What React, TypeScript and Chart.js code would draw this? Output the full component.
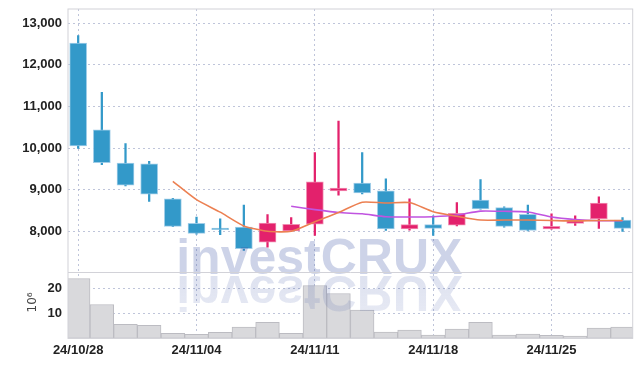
import React, { useEffect, useRef } from 'react';
import { Chart, registerables } from 'chart.js';
Chart.register(...registerables);

const dates = ['24/10/28','24/10/29','24/10/30','24/10/31','24/11/01','24/11/04','24/11/05','24/11/06','24/11/07','24/11/08','24/11/11','24/11/12','24/11/13','24/11/14','24/11/15','24/11/18','24/11/19','24/11/20','24/11/21','24/11/22','24/11/25','24/11/26','24/11/27','24/11/28'];
const opens = [12520,10440,9640,9620,8780,8190,8080,8100,7740,8010,8170,8970,9160,8970,8060,8160,8150,8750,8570,8410,8060,8190,8300,8270];
const closes = [10050,9650,9110,8890,8120,7950,8040,7580,8200,8170,9190,9040,8920,8060,8160,8070,8430,8540,8120,8020,8120,8260,8680,8070];
const highs = [12700,11340,10110,9680,8790,8340,8300,8630,8400,8330,9890,10650,9890,9260,8780,8370,8690,9240,8590,8630,8420,8370,8830,8330];
const lows = [9990,9600,9090,8720,8110,7930,7920,7540,7620,8000,7900,8870,8900,8020,8030,7900,8130,8530,8100,8010,8050,8140,8070,8000];
const ma5 = [null,null,null,null,9200,8760,8460,8130,8000,8000,8230,8450,8700,8680,8690,8470,8360,8270,8270,8270,8260,8250,8260,8260];
const ma10 = [null,null,null,null,null,null,null,null,null,8600,8520,8450,8420,8350,8345,8350,8390,8485,8480,8465,8345,8285,8255,8255];
const volumes = [24.0,13.6,5.6,5.2,2.0,1.6,2.4,4.5,6.4,2.0,21.2,18.0,11.3,2.5,3.3,1.3,3.7,6.4,1.3,1.7,1.2,0.9,4.1,4.5];
const priceTicks = [8000, 9000, 10000, 11000, 12000, 13000];
const volumeTicks = [10, 20];
const dateTickIndexes = [0, 5, 10, 15, 20];

const UP = '#e3216c';
const DOWN = '#3399c9';
const GRID = 'rgba(170,178,205,0.75)';
const FONT = "'Liberation Sans', Arial, sans-serif";

export default function App() {
  const ref = useRef<HTMLCanvasElement>(null);
  useEffect(() => {
    const canvas = ref.current!;
    const isUp = opens.map((o, i) => closes[i] >= o);
    const colors = isUp.map(u => (u ? UP : DOWN));
    const borders = isUp.map(u => (u ? 'rgba(240,130,170,0.9)' : 'rgba(150,200,230,0.9)'));

    const framePlugin = {
      id: 'frame',
      afterDatasetsDraw(chart: any) {
        const { ctx, chartArea } = chart;
        const sepY = chart.scales.y.bottom;
        const cx = chartArea.left + (chartArea.right - chartArea.left) * 0.445;
        ctx.save();
        ctx.font = "bold 50px 'Liberation Sans', Arial, sans-serif";
        ctx.textAlign = 'center';
        ctx.textBaseline = 'alphabetic';
        ctx.fillStyle = 'rgba(55,79,163,0.25)';
        ctx.fillText('investCRUX', cx, sepY + 1);
        ctx.restore();
        ctx.save();
        ctx.beginPath();
        ctx.rect(chartArea.left, sepY, chartArea.right - chartArea.left, chartArea.bottom - sepY);
        ctx.clip();
        ctx.translate(0, 2 * (sepY + 3));
        ctx.scale(1, -1);
        ctx.font = "bold 50px 'Liberation Sans', Arial, sans-serif";
        ctx.textAlign = 'center';
        ctx.textBaseline = 'alphabetic';
        const g = ctx.createLinearGradient(0, sepY + 3, 0, sepY - 45);
        g.addColorStop(0, 'rgba(55,79,163,0.17)');
        g.addColorStop(1, 'rgba(55,79,163,0.11)');
        ctx.fillStyle = g;
        ctx.fillText('investCRUX', cx, sepY + 3);
        ctx.restore();
      },
      afterDraw(chart: any) {
        const { ctx, chartArea } = chart;
        const sepY = chart.scales.y.bottom;
        ctx.save();
        ctx.strokeStyle = '#d2d2d8';
        ctx.lineWidth = 1;
        ctx.strokeRect(chartArea.left, chartArea.top, chartArea.right - chartArea.left, chartArea.bottom - chartArea.top);
        ctx.beginPath();
        ctx.moveTo(chartArea.left, sepY);
        ctx.lineTo(chartArea.right, sepY);
        ctx.stroke();
        const yv = chart.scales.yv;
        ctx.translate(25, (yv.top + yv.bottom) / 2 - 3);
        ctx.rotate(-Math.PI / 2);
        ctx.font = "12px 'DejaVu Sans', sans-serif";
        ctx.fillStyle = '#444';
        ctx.textAlign = 'center';
        ctx.textBaseline = 'middle';
        ctx.fillText('10⁶', 0, 0);
        ctx.restore();
      },
    };

    const tickFont = { family: FONT, size: 13, weight: 'bold' as const };
    const chart = new Chart(canvas, {
      type: 'bar',
      data: {
        datasets: [
          {
            type: 'line',
            label: 'MA5',
            data: ma5.map((v, i) => ({ x: i, y: v })) as any,
            yAxisID: 'y',
            borderColor: '#ec8052',
            borderWidth: 1.6,
            pointRadius: 0,
            tension: 0.2,
            order: 0,
          },
          {
            type: 'line',
            label: 'MA10',
            data: ma10.map((v, i) => ({ x: i, y: v })) as any,
            yAxisID: 'y',
            borderColor: '#c054e0',
            borderWidth: 1.6,
            pointRadius: 0,
            tension: 0.2,
            order: 0,
          },
          {
            type: 'bar',
            label: 'body',
            data: opens.map((o, i) => ({ x: i, y: [o, closes[i]] })) as any,
            yAxisID: 'y',
            backgroundColor: colors,
            borderColor: borders,
            borderWidth: 1,
            borderSkipped: false,
            barThickness: 17,
            grouped: false,
            order: 1,
          },
          {
            type: 'bar',
            label: 'wick',
            data: lows.map((l, i) => ({ x: i, y: [l, highs[i]] })) as any,
            yAxisID: 'y',
            backgroundColor: colors,
            borderWidth: 0,
            barThickness: 1.6,
            grouped: false,
            order: 2,
          },
          {
            type: 'bar',
            label: 'volume',
            data: volumes.map((v, i) => ({ x: i, y: v })) as any,
            yAxisID: 'yv',
            backgroundColor: '#d9d9dc',
            borderColor: '#bcbcc2',
            borderWidth: 1,
            borderSkipped: false,
            barPercentage: 1,
            categoryPercentage: 1,
            grouped: false,
            order: 3,
          },
        ] as any,
      },
      options: {
        animation: false,
        responsive: false,
        events: [],
        layout: { padding: { top: 1, right: 1.3, bottom: 0, left: 0 } },
        plugins: { legend: { display: false }, tooltip: { enabled: false } },
        scales: {
          x: {
            type: 'linear',
            min: -0.43,
            max: 23.43,
            offset: false,
            grid: { color: GRID, drawTicks: false, offset: false },
            border: { display: false, dash: [2, 3] },
            afterBuildTicks: (s: any) => { s.ticks = dateTickIndexes.map(v => ({ value: v })); },
            ticks: {
              autoSkip: false,
              maxRotation: 0,
              padding: 4,
              font: tickFont,
              color: '#222',
              callback: (v: any) => dates[v],
            },
            afterFit: (s: any) => { s.paddingLeft = 0; s.paddingRight = 0; },
          } as any,
          yv: {
            type: 'linear',
            position: 'left',
            stack: 'main',
            stackWeight: 1,
            min: 0,
            max: 26.4,
            beginAtZero: false,
            grid: { color: GRID, drawTicks: false },
            border: { display: false, dash: [2, 3] },
            afterBuildTicks: (s: any) => { s.ticks = volumeTicks.map(v => ({ value: v })); },
            ticks: {
              autoSkip: false,
              padding: 6,
              font: tickFont,
              color: '#222',
              callback: (v: any) => String(v),
            },
            afterFit: (s: any) => { s.width = 60; s.paddingTop = 0; s.paddingBottom = 0; },
          } as any,
          y: {
            type: 'linear',
            position: 'left',
            stack: 'main',
            stackWeight: 4,
            min: 7010,
            max: 13340,
            beginAtZero: false,
            grid: { color: GRID, drawTicks: false },
            border: { display: false, dash: [2, 3] },
            afterBuildTicks: (s: any) => { s.ticks = priceTicks.map(v => ({ value: v })); },
            ticks: {
              autoSkip: false,
              padding: 6,
              font: tickFont,
              color: '#222',
              callback: (v: any) => Number(v).toLocaleString('en-US'),
            },
            afterFit: (s: any) => { s.width = 60; s.paddingTop = 0; s.paddingBottom = 0; },
          } as any,
        },
      },
      plugins: [framePlugin],
    });
    return () => chart.destroy();
  }, []);
  return (
    <div style={{ width: 626, height: 354 }}>
      <canvas ref={ref} width={626} height={354} style={{ display: 'block' }} />
    </div>
  );
}
